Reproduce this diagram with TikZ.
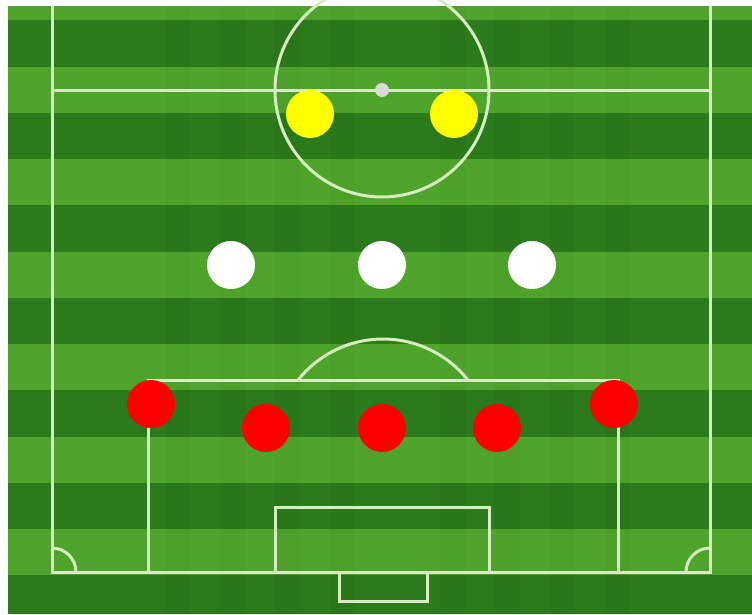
\documentclass[tikz,border=0pt]{standalone}
\begin{document}
\begin{tikzpicture}[x=1pt,y=-1pt,
  pitchline/.style={draw=linecol,line width=3pt},
  player/.style={circle,minimum size=48pt,inner sep=0pt,draw=none},
]
\definecolor{lightgrass}{HTML}{4FA52B}
\definecolor{darkgrass}{HTML}{2B7A1C}
\definecolor{linecol}{HTML}{D6EDC2}
\definecolor{yel}{HTML}{FFFF00}
\definecolor{red1}{HTML}{FF0000}
\useasboundingbox (0,0) rectangle (752,614);
\fill[white] (0,0) rectangle (752,614);
\fill[lightgrass] (8,6) rectangle (752,614);
\foreach \k in {0,...,6}{
  \fill[darkgrass] (8,{20+92.5*\k}) rectangle (752,{min(66.5+92.5*\k,614)});
}
% faint vertical stripes
\foreach \xx in {165,220,275,330,440,495,550,605}{
  \fill[black,opacity=0.02] (\xx,6) rectangle ({\xx+25},614);
}
% pitch lines
\draw[pitchline] (52,6) -- (52,572) -- (710,572) -- (710,6);
\draw[pitchline] (52,90) -- (710,90);
\draw[pitchline] (382,90) circle (107);
\fill[gray!30] (382,90) circle (7);
% penalty box
\draw[pitchline] (148,572) -- (148,380) -- (618,380) -- (618,572);
% penalty arc
\begin{scope}
\clip (100,300) rectangle (650,380);
\draw[pitchline] (383,447.5) circle (108.5);
\end{scope}
% goal area
\draw[pitchline] (275,572) -- (275,507) -- (489,507) -- (489,572);
% goal
\draw[pitchline] (339,572) -- (339,601) -- (427,601) -- (427,572);
% corner arcs
\draw[pitchline] (52,548) arc[start angle=270,end angle=360,radius=24];
\draw[pitchline] (686,572) arc[start angle=180,end angle=270,radius=24];
% players
\node[player,fill=yel] (y1) at (310,114) {};
\node[player,fill=yel] (y2) at (454,114) {};
\node[player,fill=white] (w1) at (231,265) {};
\node[player,fill=white] (w2) at (382,265) {};
\node[player,fill=white] (w3) at (532,265) {};
\node[player,fill=red1] (r1) at (151,404) {};
\node[player,fill=red1] (r2) at (266,428) {};
\node[player,fill=red1] (r3) at (382,428) {};
\node[player,fill=red1] (r4) at (497,428) {};
\node[player,fill=red1] (r5) at (614,404) {};
\end{tikzpicture}
\end{document}
